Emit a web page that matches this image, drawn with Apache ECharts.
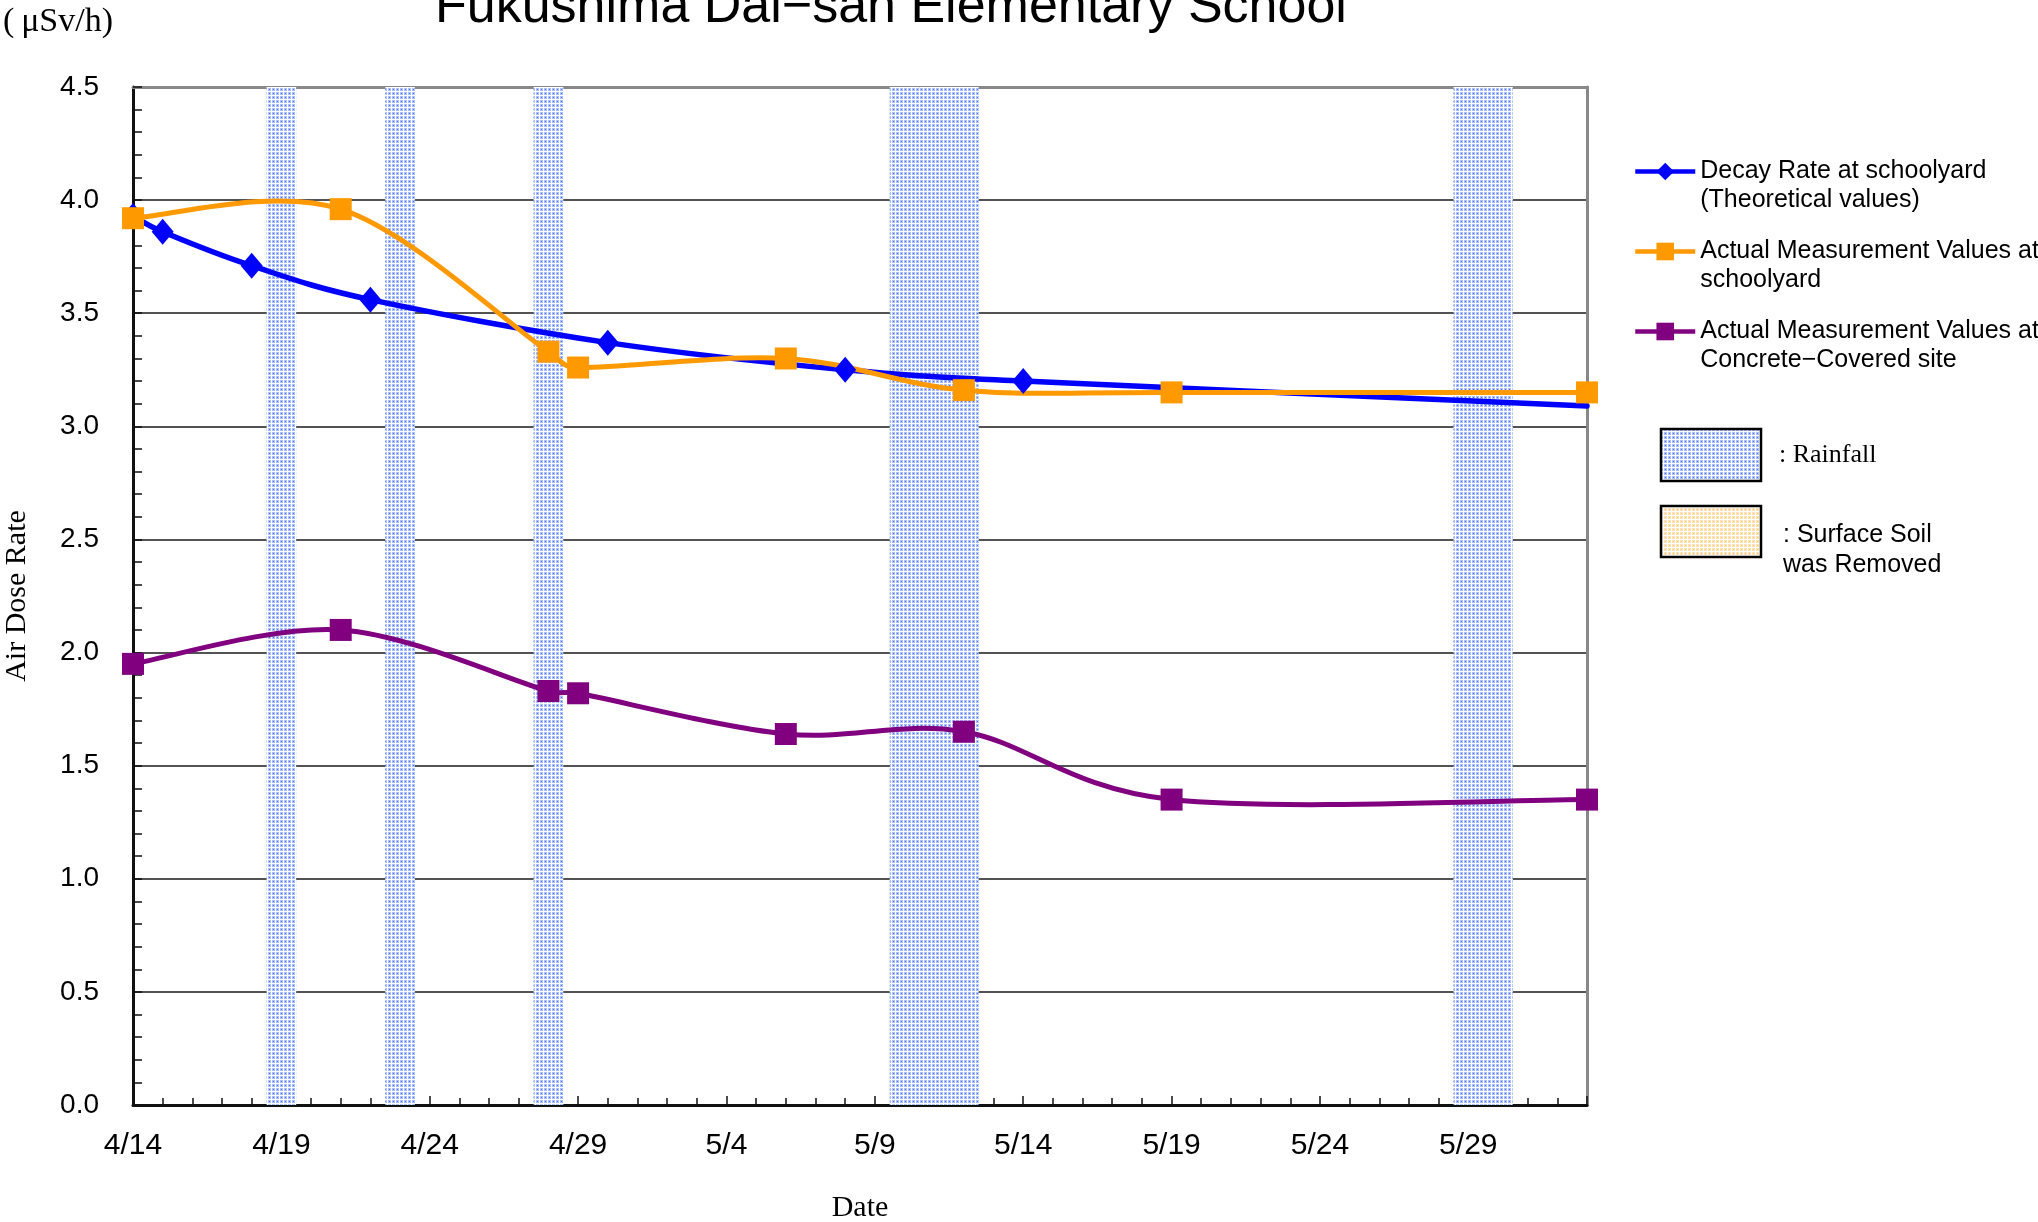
<!DOCTYPE html>
<html>
<head>
<meta charset="utf-8">
<script src="https://cdn.jsdelivr.net/npm/echarts@6/dist/echarts.min.js"></script>
<style>
html,body{margin:0;padding:0;background:#fff;}
#main{width:2038px;height:1222px;}
</style>
</head>
<body>
<div id="main"></div>
<script>
// ---- data ----
const xTickLabels = ['4/14','4/19','4/24','4/29','5/4','5/9','5/14','5/19','5/24','5/29'];
const decayDates = ['4/14','4/15','4/18','4/22','4/30','5/8','5/14','6/2'];
const decayValues = [3.93, 3.86, 3.71, 3.56, 3.37, 3.25, 3.20, 3.09];
const measDates = ['4/14','4/21','4/28','4/29','5/6','5/12','5/19','6/2'];
const schoolyardValues = [3.92, 3.96, 3.33, 3.26, 3.30, 3.16, 3.15, 3.15];
const concreteValues = [1.95, 2.10, 1.83, 1.82, 1.64, 1.65, 1.35, 1.35];
const rainDates = ['4/19','4/23','4/28','5/10','5/11','5/12','5/29','5/30'];
const seriesNames = [
  'Decay Rate at schoolyard\n(Theoretical values)',
  'Actual Measurement Values at\nschoolyard',
  'Actual Measurement Values at\nConcrete\u2212Covered site'
];
const seriesColors = ['#0000ff', '#ff9900', '#800080'];

// day offset from 4/14
function dayIndex(s){
  const p = s.split('/').map(Number);
  if (p[0] === 4) return p[1] - 14;
  if (p[0] === 5) return 16 + p[1];
  return 47 + p[1];
}

const decayData = decayDates.map((d, i) => [dayIndex(d), decayValues[i]]);
const schoolData = measDates.map((d, i) => [dayIndex(d), schoolyardValues[i]]);
const concreteData = measDates.map((d, i) => [dayIndex(d), concreteValues[i]]);

function makePattern(bg, light, dark){
  const c = document.createElement('canvas');
  c.width = 4; c.height = 4;
  const g = c.getContext('2d');
  g.fillStyle = bg; g.fillRect(0,0,4,4);
  g.fillStyle = light; g.fillRect(0,0,3,3);
  g.fillStyle = dark; g.fillRect(1,1,1,1);
  return c;
}
const bluePat = makePattern('#ffffff', '#aac0ff', '#4a70ff');
const orangePat = makePattern('#ffffff', '#ffe2b8', '#ffc070');

const rainAreas = rainDates.map(d => {
  const i = dayIndex(d);
  return [{xAxis: i - 0.5}, {xAxis: i + 0.5}];
});

// Excel-style smoothed bezier through pixel points
function dist(a, b){ return Math.hypot(b[0]-a[0], b[1]-a[1]); }
function smoothCurve(pts, color, width){
  const children = [];
  const n = pts.length;
  for (let i = 0; i < n - 1; i++) {
    const p0 = pts[i - 1] || pts[i];
    const p1 = pts[i];
    const p2 = pts[i + 1];
    const p3 = pts[i + 2] || pts[i + 1];
    const d12 = dist(p1, p2), d02 = dist(p0, p2), d13 = dist(p1, p3);
    let f1 = 1/6, f2 = 1/6;
    if (d02 / 6 > d12 / 2 && d02 > 0) f1 = d12 / (2 * d02);
    if (d13 / 6 > d12 / 2 && d13 > 0) f2 = d12 / (2 * d13);
    children.push({
      type: 'bezierCurve',
      shape: {
        x1: p1[0], y1: p1[1], x2: p2[0], y2: p2[1],
        cpx1: p1[0] + f1 * (p2[0] - p0[0]), cpy1: p1[1] + f1 * (p2[1] - p0[1]),
        cpx2: p2[0] - f2 * (p3[0] - p1[0]), cpy2: p2[1] - f2 * (p3[1] - p1[1])
      },
      style: {stroke: color, lineWidth: width, fill: null, lineCap: 'round', lineJoin: 'round'}
    });
  }
  return {type: 'group', children: children};
}
function curveSeries(name, data, color, width, z){
  return {
    name: name + ' curve', type: 'custom', z: z, silent: true,
    data: data,
    renderItem: function(params, api){
      if (params.dataIndex !== 0) return null;
      const pts = data.map(p => api.coord(p));
      return smoothCurve(pts, color, width);
    }
  };
}

const sansFont = "'Liberation Sans', Arial, sans-serif";
const serifFont = "'Liberation Serif', serif";

const chart = echarts.init(document.getElementById('main'), null, {renderer: 'canvas'});
chart.setOption({
  animation: false,
  backgroundColor: '#ffffff',
  title: {
    text: 'Fukushima Dai\u2212san Elementary School',
    left: 435, top: -18, padding: 0,
    textStyle: {fontFamily: sansFont, fontSize: 52, fontWeight: 'normal', color: '#000'}
  },
  grid: {left: 133, right: 451, top: 87, bottom: 117, outerBoundsMode: 'none', containLabel: false,
         show: false},
  legend: {
    orient: 'vertical', left: 1633, top: 128, padding: 0,
    itemWidth: 60, itemHeight: 22, itemGap: -7,
    data: seriesNames.map((n, i) => ({name: n, lineStyle: {color: seriesColors[i], width: 4.5, opacity: 1}})),
    formatter: n => '\n' + n,
    textStyle: {fontFamily: sansFont, fontSize: 25, lineHeight: 29, color: '#000'}
  },
  xAxis: [{
    type: 'value', min: 0, max: 49, interval: 5,
    name: 'Date', nameLocation: 'middle', nameGap: 88,
    nameTextStyle: {fontFamily: serifFont, fontSize: 30, color: '#000'},
    axisLine: {show: true, lineStyle: {color: '#111', width: 3}},
    axisTick: {show: true, inside: true, length: 9, lineStyle: {color: '#111', width: 1.5}},
    minorTick: {show: true, splitNumber: 5, length: 7, lineStyle: {color: '#111', width: 1.5}},
    splitLine: {show: false},
    axisLabel: {
      margin: 26, showMaxLabel: false,
      fontFamily: sansFont, fontSize: 30, color: '#000',
      formatter: v => (v % 5 === 0 && xTickLabels[v / 5]) ? xTickLabels[v / 5] : ''
    }
  }, {
    type: 'value', position: 'top', min: 0, max: 49, interval: 5,
    axisLine: {show: true, onZero: false, lineStyle: {color: '#888', width: 3}},
    axisTick: {show: false}, axisLabel: {show: false}, splitLine: {show: false}
  }],
  yAxis: [{
    type: 'value', min: 0, max: 4.5, interval: 0.5,
    name: 'Air Dose Rate', nameLocation: 'middle', nameGap: 101, nameRotate: 90,
    nameTextStyle: {fontFamily: serifFont, fontSize: 30, color: '#000'},
    axisLine: {show: true, lineStyle: {color: '#111', width: 3}},
    axisTick: {show: true, inside: true, length: 9, lineStyle: {color: '#111', width: 1.5}},
    minorTick: {show: true, splitNumber: 5, length: 9, lineStyle: {color: '#111', width: 1.5}},
    splitLine: {show: true, lineStyle: {color: '#1a1a1a', width: 1.6}},
    axisLabel: {
      margin: 34, fontFamily: sansFont, fontSize: 28, color: '#000',
      formatter: v => v.toFixed(1)
    }
  }, {
    type: 'value', position: 'right', min: 0, max: 4.5, interval: 0.5,
    axisLine: {show: true, onZero: false, lineStyle: {color: '#888', width: 3}},
    axisTick: {show: false}, axisLabel: {show: false}, splitLine: {show: false}
  }],
  graphic: [
    {type: 'text', left: 3, top: 5, style: {text: '(\u2009\u03bcSv/h)', font: "34px 'Liberation Serif', serif", fill: '#000'}},
    {type: 'rect', shape: {x: 1661, y: 429, width: 100, height: 52}, style: {fill: {image: bluePat, repeat: 'repeat'}, stroke: '#000', lineWidth: 2.5}},
    {type: 'text', x: 1779, y: 455, style: {text: ': Rainfall', font: "26px 'Liberation Serif', serif", fill: '#000', verticalAlign: 'middle'}},
    {type: 'rect', shape: {x: 1661, y: 506, width: 100, height: 51}, style: {fill: {image: orangePat, repeat: 'repeat'}, stroke: '#000', lineWidth: 2.5}},
    {type: 'text', x: 1783, y: 520, style: {text: ': Surface Soil\nwas Removed', font: "25px 'Liberation Sans', Arial, sans-serif", lineHeight: 30, fill: '#000', verticalAlign: 'top'}}
  ],
  series: [
    {
      name: 'Rainfall', type: 'line', data: [], z: 1,
      markArea: {silent: true, itemStyle: {color: {image: bluePat, repeat: 'repeat'}}, data: rainAreas}
    },
    curveSeries('decay', decayData, seriesColors[0], 5.5, 2),
    curveSeries('school', schoolData, seriesColors[1], 5, 2),
    curveSeries('concrete', concreteData, seriesColors[2], 5, 2),
    {
      name: seriesNames[0], type: 'line', z: 3,
      symbol: 'diamond', symbolSize: [22, 26],
      lineStyle: {color: seriesColors[0], width: 0, opacity: 0},
      itemStyle: {color: seriesColors[0]},
      data: decayData.map((p, i) => (i === decayData.length - 1) ? {value: p, symbolSize: 0} : p)
    },
    {
      name: seriesNames[1], type: 'line', z: 4,
      symbol: 'rect', symbolSize: 22,
      lineStyle: {color: seriesColors[1], width: 0, opacity: 0},
      itemStyle: {color: seriesColors[1]},
      data: schoolData
    },
    {
      name: seriesNames[2], type: 'line', z: 5,
      symbol: 'rect', symbolSize: 22,
      lineStyle: {color: seriesColors[2], width: 0, opacity: 0},
      itemStyle: {color: seriesColors[2]},
      data: concreteData
    }
  ]
});
</script>
</body>
</html>
